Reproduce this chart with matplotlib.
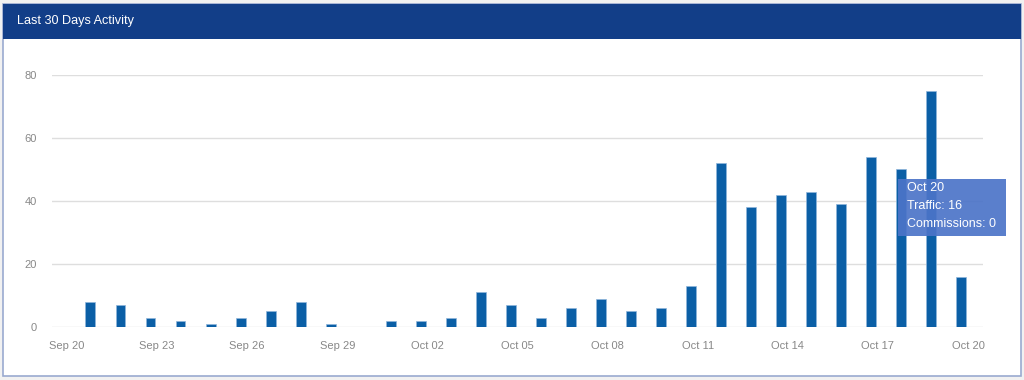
import numpy as np
import matplotlib
matplotlib.use("Agg")
import matplotlib.pyplot as plt
from matplotlib.patches import Rectangle

# data (one bar per day, Sep 20 .. Oct 20)
days = ["Sep 20", "Sep 21", "Sep 22", "Sep 23", "Sep 24", "Sep 25", "Sep 26",
        "Sep 27", "Sep 28", "Sep 29", "Sep 30", "Oct 01", "Oct 02", "Oct 03",
        "Oct 04", "Oct 05", "Oct 06", "Oct 07", "Oct 08", "Oct 09", "Oct 10",
        "Oct 11", "Oct 12", "Oct 13", "Oct 14", "Oct 15", "Oct 16", "Oct 17",
        "Oct 18", "Oct 19", "Oct 20"]
traffic = [0, 8, 7, 3, 2, 1, 3, 5, 8, 1, 0, 2, 2, 3, 11, 7, 3, 6, 9, 5, 6,
           13, 52, 38, 42, 43, 39, 54, 50, 75, 16]
commissions = [0] * 31
yticks = [0, 20, 40, 60, 80]

W, H = 1024, 380
fig = plt.figure(figsize=(W / 100, H / 100), dpi=100)
fig.patch.set_facecolor("#f1f1f1")

# panel + header
fig.add_artist(Rectangle((3 / W, 4 / H), 1018 / W, 372 / H, transform=fig.transFigure,
                         facecolor="white", edgecolor="#9aaad0", linewidth=1.2, zorder=0))
fig.add_artist(Rectangle((3 / W, (H - 39) / H), 1018 / W, 35 / H, transform=fig.transFigure,
                         facecolor="#123e88", edgecolor="none", zorder=1))
fig.text(17 / W, (H - 21) / H, "Last 30 Days Activity", color="white", fontsize=9.1,
         family="Liberation Sans", va="center", ha="left")

ax = fig.add_axes([52 / W, 53 / H, (983 - 52) / W, (327 - 75) / H])
x = np.arange(len(days))
bw = 0.33
ax.bar(x - 0.22, traffic, width=bw, color="#0b5fa6", edgecolor="#8fb6dc", linewidth=0.5, zorder=3)
ax.bar(x + 0.22, commissions, width=bw, color="#f0a030", zorder=3)

ax.set_xlim(-0.5, 30.5)
ax.set_ylim(0, 80)
ax.set_yticks(yticks)
ax.set_xticks(x[::3])
ax.set_xticklabels(days[::3])
ax.grid(axis="y", color="#dedede", linewidth=1, zorder=0)
for s in ax.spines.values():
    s.set_visible(False)
ax.tick_params(length=0, colors="#888888", labelsize=8, pad=10)
ax.tick_params(axis="y", pad=11)
for lab in ax.get_xticklabels() + ax.get_yticklabels():
    lab.set_family("Liberation Sans")
ax.set_facecolor("none")

# tooltip
fig.add_artist(Rectangle((898 / W, (H - 236) / H), 108 / W, 57 / H, transform=fig.transFigure,
                         facecolor="#4c74c8", edgecolor="none", alpha=0.92, zorder=5))
tip = ["Oct 20", "Traffic: " + str(traffic[-1]), "Commissions: " + str(commissions[-1])]
for i, t in enumerate(tip):
    fig.text(907 / W, (H - 188 - i * 18) / H, t, color="white", fontsize=9,
             family="Liberation Sans", va="center", ha="left", zorder=6)

fig.savefig("out.png", dpi=100, facecolor=fig.get_facecolor())
